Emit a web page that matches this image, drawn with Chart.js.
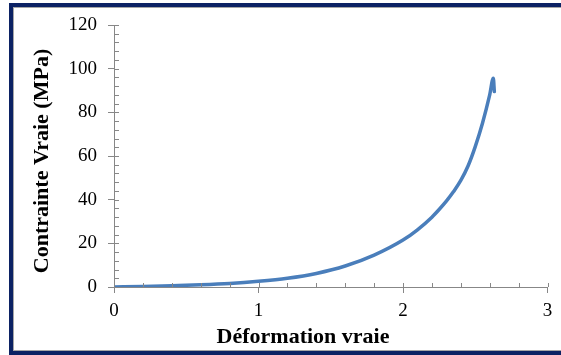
<!DOCTYPE html>
<html lang="fr">
<head>
<meta charset="UTF-8">
<title>Contrainte vraie - Déformation vraie</title>
<script src="https://cdn.jsdelivr.net/npm/chart.js@4"></script>
<style>
    * { margin: 0; padding: 0; box-sizing: border-box; }
    body { width: 561px; height: 355px; overflow: hidden; background: #fff; position: relative; }
    .frame {
        position: absolute; left: 9px; top: 3px; width: 640px; height: 352px;
        border: 4px solid #0c2264;
        box-shadow: inset 0 0 0 1px #a6a6a6;
    }
    .wrap { position: absolute; left: 0; top: 0; width: 561px; height: 355px; }
</style>
</head>
<body>
<div class="frame"></div>
<div class="wrap"><canvas id="chart"></canvas></div>
<script>
// courbe
const strain = [0, 0.2, 0.4, 0.6, 0.8, 1.0, 1.2, 1.4, 1.6, 1.8, 2.0, 2.1, 2.2, 2.25, 2.3, 2.35, 2.4, 2.45, 2.5, 2.55, 2.6, 2.625, 2.632];
const stress = [0, 0.25, 0.6, 1.0, 1.6, 2.6, 4.0, 6.2, 9.6, 14.6, 21.5, 26.2, 32, 35.5, 39.3, 43.7, 48.8, 55.4, 64.3, 75, 88, 95.6, 89.5];

const xTicks = [0, 1, 2, 3];
const yTicks = [0, 20, 40, 60, 80, 100, 120];
const xTitle = 'Déformation vraie';
const yTitle = 'Contrainte Vraie (MPa)';

const axisGray = '#878787';
const tickFont = { family: "'Liberation Serif', 'Times New Roman', serif", size: 19 };

// petites graduations vers l'intérieur + titres d'axes
const innerTicks = {
    id: 'innerTicks',
    afterDraw(chart) {
        const ctx = chart.ctx;
        const xs = chart.scales.x, ys = chart.scales.y;
        const left = chart.chartArea.left, bottom = chart.chartArea.bottom;
        ctx.save();
        ctx.strokeStyle = axisGray;
        ctx.lineWidth = 1;
        ctx.beginPath();
        for (let v = ys.min; v <= ys.max + 1e-9; v += 4) {
            const y = Math.round(ys.getPixelForValue(v)) + 0.5;
            ctx.moveTo(left, y);
            ctx.lineTo(left + 5, y);
        }
        for (let v = xs.min; v <= xs.max + 1e-9; v += 0.2) {
            const x = Math.round(xs.getPixelForValue(v)) + 0.5;
            ctx.moveTo(x, bottom);
            ctx.lineTo(x, bottom - 4);
        }
        ctx.stroke();

        ctx.fillStyle = '#000';
        ctx.font = "bold 22px 'Liberation Serif', 'Times New Roman', serif";
        ctx.textAlign = 'center';
        ctx.textBaseline = 'alphabetic';
        ctx.fillText(xTitle, 303, 343);
        ctx.translate(48, 161);
        ctx.rotate(-Math.PI / 2);
        ctx.fillText(yTitle, 0, 0);
        ctx.restore();
    }
};

new Chart(document.getElementById('chart'), {
    type: 'scatter',
    data: {
        datasets: [{
            data: strain.map((x, i) => ({ x: x, y: stress[i] })),
            showLine: true,
            borderColor: '#4a7ebb',
            borderWidth: 3.5,
            borderCapStyle: 'round',
            borderJoinStyle: 'round',
            pointRadius: 0,
            cubicInterpolationMode: 'monotone'
        }]
    },
    plugins: [innerTicks],
    options: {
        responsive: true,
        maintainAspectRatio: false,
        animation: false,
        layout: { padding: { left: 0, top: 25, right: 13.5, bottom: 0 } },
        plugins: { legend: { display: false }, tooltip: { enabled: false } },
        scales: {
            x: {
                type: 'linear',
                min: 0, max: 3,
                afterBuildTicks: s => { s.ticks = xTicks.map(v => ({ value: v })); },
                afterFit: s => { s.height = 68; },
                border: { color: axisGray, width: 1 },
                grid: { drawOnChartArea: false, tickLength: 6, color: axisGray },
                ticks: { color: '#000', font: tickFont, padding: 7, maxRotation: 0 }
            },
            y: {
                type: 'linear',
                min: 0, max: 120,
                afterBuildTicks: s => { s.ticks = yTicks.map(v => ({ value: v })); },
                afterFit: s => { s.width = 114; },
                border: { color: axisGray, width: 1 },
                grid: { drawOnChartArea: false, tickLength: 6, color: axisGray },
                ticks: { color: '#000', font: tickFont, padding: 11 }
            }
        }
    }
});
</script>
</body>
</html>
